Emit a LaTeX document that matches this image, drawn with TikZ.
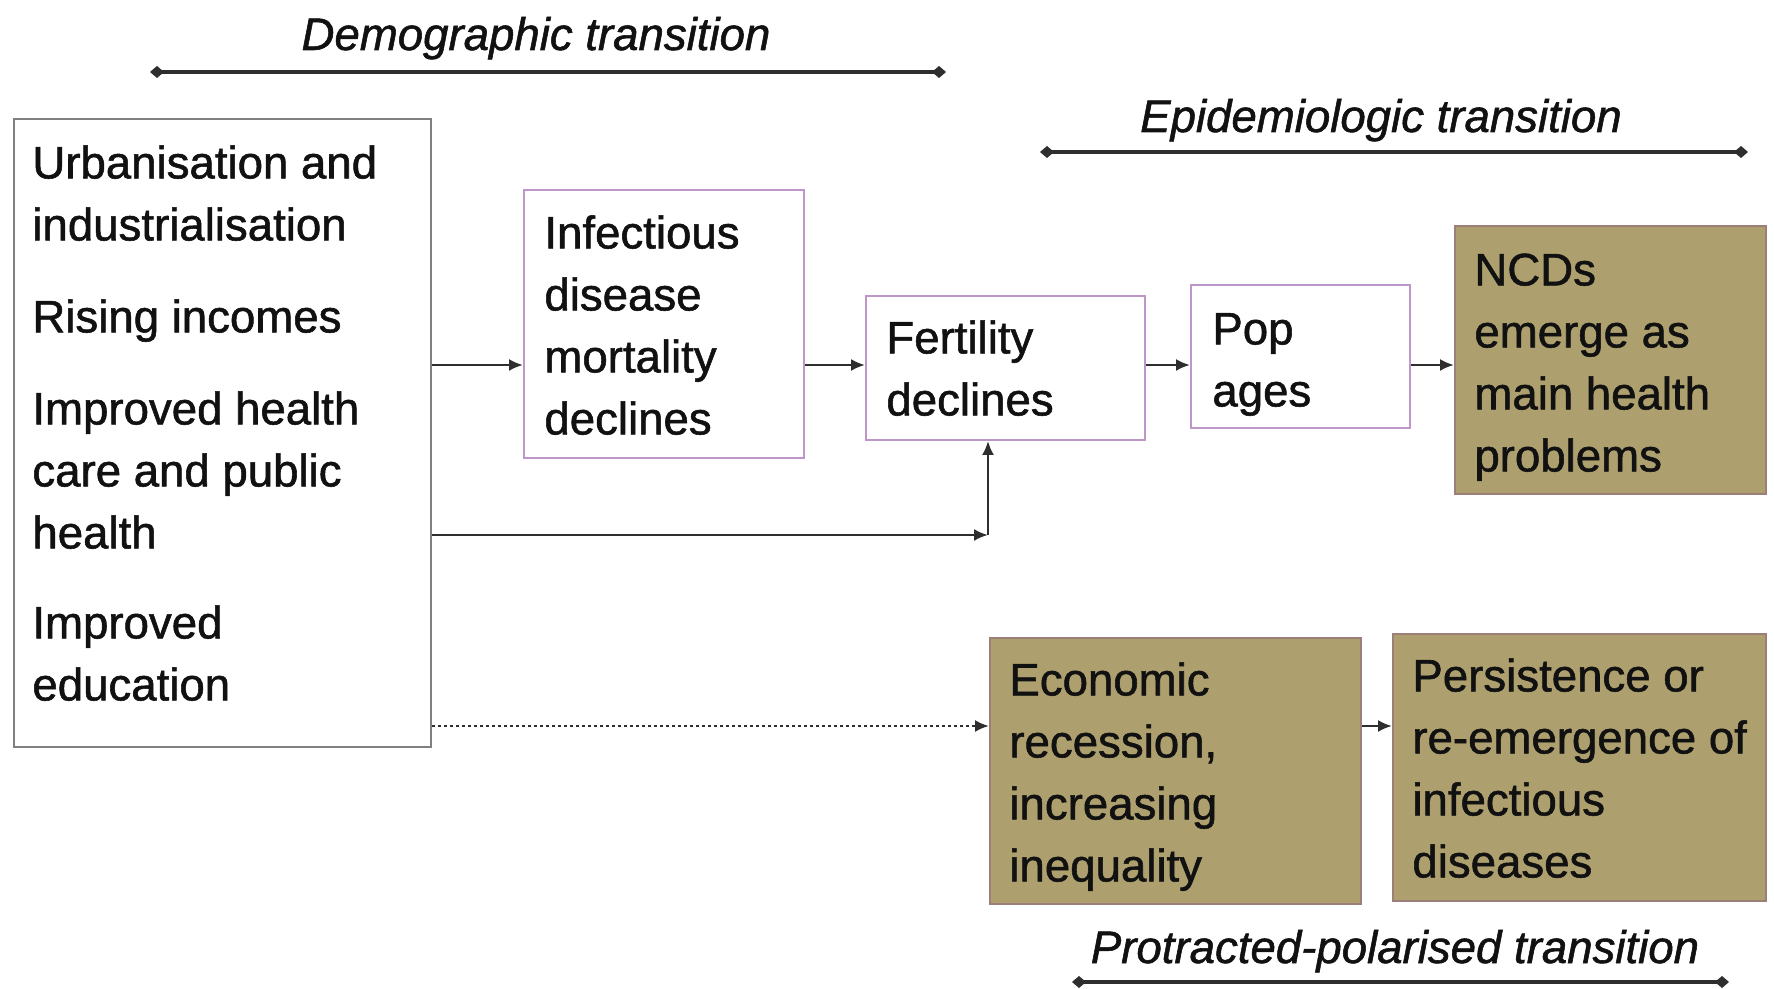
\documentclass[tikz,border=0pt]{standalone}
\usepackage{fontspec}
\setmainfont[FakeBold=1.2]{Liberation Sans}
\usetikzlibrary{arrows.meta,fit}
\definecolor{olive}{HTML}{ADA06E}
\definecolor{olivebd}{HTML}{9C7F78}
\definecolor{pinkbd}{HTML}{BE96C8}
\definecolor{greybd}{HTML}{808080}
\definecolor{ink}{HTML}{111111}
\definecolor{linec}{HTML}{2E2E2E}
\begin{document}
\begin{tikzpicture}[x=0.5pt,y=-0.5pt,
  txt/.style={font=\fontsize{22.8pt}{31pt}\selectfont, text=ink, align=left, inner sep=0pt, anchor=north west},
  lab/.style={font=\fontsize{22.8pt}{31pt}\selectfont\itshape, text=ink, inner sep=0pt, anchor=base},
  whitebox/.style={draw=pinkbd, line width=1pt, fill=white, inner sep=0pt},
  greybox/.style={draw=greybd, line width=1pt, fill=white, inner sep=0pt},
  olivebox/.style={draw=olivebd, line width=1pt, fill=olive, inner sep=0pt},
  arr/.style={draw=linec, line width=1.1pt, -{Latex[length=7pt,width=6pt]}},
  span/.style={draw=linec, line width=1.6pt, {Diamond[length=7pt,width=6pt]}-{Diamond[length=7pt,width=6pt]}}
]
\useasboundingbox[fill=white] (0,0) rectangle (1774,989);

% boxes
\node[greybox, fit={(14,119) (431,747)}] (L) {};
\node[whitebox, fit={(524,190) (804,458)}] (I) {};
\node[whitebox, fit={(866,296) (1145,440)}] (F) {};
\node[whitebox, fit={(1191,285) (1410,428)}] (P) {};
\node[olivebox, fit={(1455,226) (1766,494)}] (N) {};
\node[olivebox, fit={(990,638) (1361,904)}] (E) {};
\node[olivebox, fit={(1393,634) (1766,901)}] (R) {};

% texts
\node[txt] (Lt) at (32,142) {\rule{0pt}{18pt}Urbanisation and\\industrialisation\\[15pt]Rising incomes\\[15pt]Improved health\\care and public\\health\\[14pt]Improved\\education};
\node[txt] (It) at (544,212) {\rule{0pt}{18pt}Infectious\\disease\\mortality\\declines};
\node[txt] (Ft) at (886,317) {\rule{0pt}{18pt}Fertility\\declines};
\node[txt] (Pt) at (1212,308) {\rule{0pt}{18pt}Pop\\ages};
\node[txt] (Nt) at (1474,249) {\rule{0pt}{18pt}NCDs\\emerge as\\main health\\problems};
\node[txt] (Et) at (1009,659) {\rule{0pt}{18pt}Economic\\recession,\\increasing\\inequality};
\node[txt] (Rt) at (1412,655) {\rule{0pt}{18pt}Persistence or\\re-emergence of\\infectious\\diseases};

% transition labels and spans
\node[lab] (demo) at (536,50) {Demographic transition};
\node[lab] (epi) at (1381,132) {Epidemiologic transition};
\node[lab] (prot) at (1395,963) {Protracted-polarised transition};
\coordinate (d1) at (150,72);
\coordinate (d2) at (946,72);
\coordinate (e1) at (1040,152);
\coordinate (e2) at (1748,152);
\coordinate (p1) at (1072,982);
\coordinate (p2) at (1729,982);
\draw[span] (d1) -- (d2);
\draw[span] (e1) -- (e2);
\draw[span] (p1) -- (p2);

% connectors
\coordinate (y1) at (0,365);
\coordinate (j) at (988,535);
\coordinate (y3) at (0,726);
\draw[arr] (L.east |- y1) -- (I.west |- y1);
\draw[arr] (I.east |- y1) -- (F.west |- y1);
\draw[arr] (F.east |- y1) -- (P.west |- y1);
\draw[arr] (P.east |- y1) -- (N.west |- y1);
\draw[arr] (L.east |- j) -- (j);
\draw[arr] (j) -- (F.south -| j);
\draw[arr, dash pattern=on 1.5pt off 1.5pt] (L.east |- y3) -- (E.west |- y3);
\draw[arr] (E.east |- y3) -- (R.west |- y3);
\end{tikzpicture}
\end{document}
